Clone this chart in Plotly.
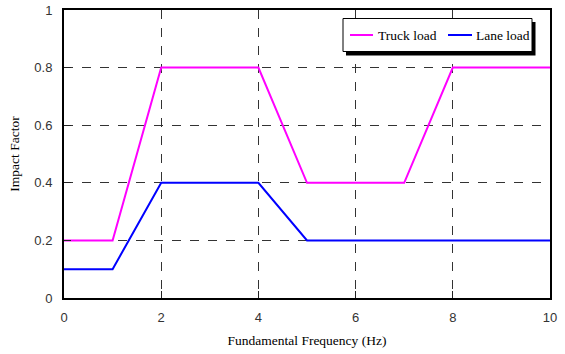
import plotly.graph_objects as go

freq_truck = [0, 1, 2, 4, 5, 7, 8, 10]
impact_truck = [0.2, 0.2, 0.8, 0.8, 0.4, 0.4, 0.8, 0.8]
freq_lane = [0, 1, 2, 4, 5, 10]
impact_lane = [0.1, 0.1, 0.4, 0.4, 0.2, 0.2]
series_names = ["Truck load", "Lane load"]
series_colors = ["#ff00ff", "#0000ff"]

SERIF = "Times New Roman, Liberation Serif, serif"
SANS = "Arial, Liberation Sans, sans-serif"

fig = go.Figure()
fig.add_trace(go.Scatter(x=freq_truck, y=impact_truck, mode="lines", name=series_names[0],
                         line=dict(color=series_colors[0], width=2)))
fig.add_trace(go.Scatter(x=freq_lane, y=impact_lane, mode="lines", name=series_names[1],
                         line=dict(color=series_colors[1], width=2)))

axis_common = dict(showgrid=True, gridcolor="#333333", griddash="dash", gridwidth=1,
                   showline=True, linecolor="black", linewidth=2, mirror=True,
                   zeroline=False, ticks="inside", ticklen=7, tickcolor="#222", tickwidth=1,
                   automargin=False,
                   tickfont=dict(family=SANS, size=13, color="#333"))
fig.update_xaxes(range=[0, 10], dtick=2, tick0=0, ticklabelstandoff=6,
                 title=dict(text="Fundamental Frequency (Hz)", standoff=12,
                            font=dict(family=SERIF, size=13.5, color="black")),
                 **axis_common)
fig.update_yaxes(range=[0, 1], dtick=0.2, tick0=0, ticklabelstandoff=7,
                 title=dict(text="Impact Factor", standoff=12,
                            font=dict(family=SERIF, size=13.5, color="black")),
                 **axis_common)

L, R, T, B = 64, 15, 10, 56
W, H = 565, 354
pw, ph = W - L - R, H - T - B

def px_x(p):
    return (p - L) / pw

def px_y(p):
    return (H - B - p) / ph

# legend drawn by hand: shadow, box, line samples, labels
fig.add_shape(type="rect", xref="paper", yref="paper",
              x0=px_x(346), x1=px_x(535.5), y0=px_y(55.5), y1=px_y(22),
              fillcolor="black", line=dict(width=0), layer="above")
fig.add_shape(type="rect", xref="paper", yref="paper",
              x0=px_x(343), x1=px_x(532), y0=px_y(51.5), y1=px_y(18.5),
              fillcolor="white", line=dict(color="black", width=1), layer="above")
sample_x = [(350, 373, 376.5), (448, 472, 474.5)]
for (x0, x1, tx), name, col in zip(sample_x, series_names, series_colors):
    fig.add_shape(type="line", xref="paper", yref="paper",
                  x0=px_x(x0), x1=px_x(x1), y0=px_y(35), y1=px_y(35),
                  line=dict(color=col, width=2), layer="above")
    fig.add_annotation(xref="paper", yref="paper", x=px_x(tx), y=px_y(35),
                       xanchor="left", yanchor="middle", text=name, showarrow=False,
                       font=dict(family=SERIF, size=13.5, color="black"),
                       borderpad=0, xshift=0)

fig.update_layout(
    width=W, height=H, margin=dict(l=L, r=R, t=T, b=B),
    plot_bgcolor="white", paper_bgcolor="white",
    showlegend=False,
)
fig.write_html("out.html")
